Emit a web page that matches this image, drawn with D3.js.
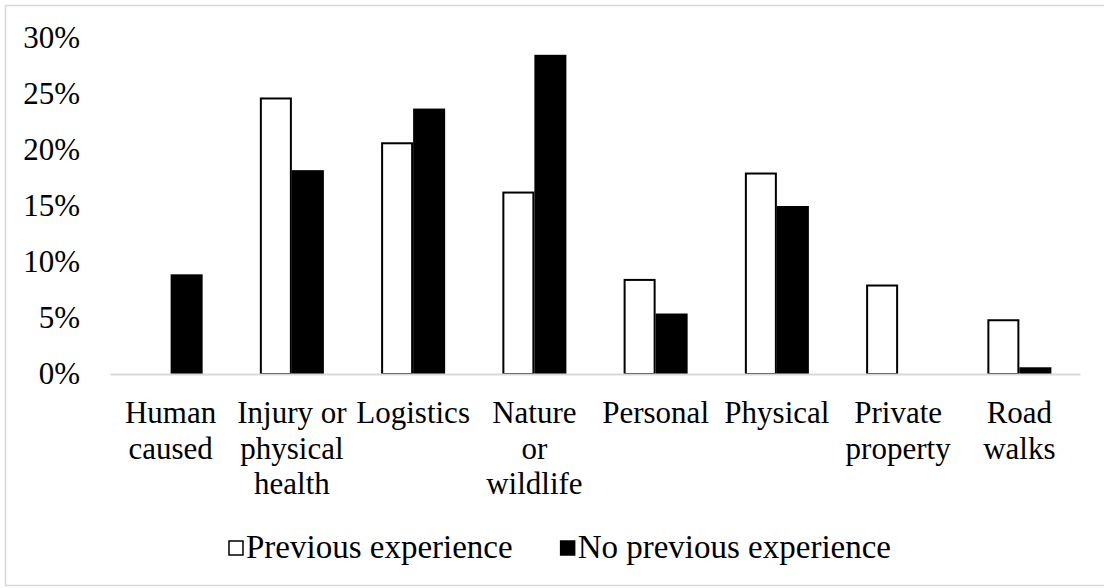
<!DOCTYPE html>
<html>
<head>
<meta charset="utf-8">
<script src="https://cdn.jsdelivr.net/npm/d3@7"></script>
<style>
  html, body { margin: 0; padding: 0; background: #fff; }
  svg { display: block; font-family: "Liberation Serif", "Times New Roman", serif; }
</style>
</head>
<body>
<script>
const categories = ['Human caused', 'Injury or physical health', 'Logistics', 'Nature or wildlife',
                    'Personal', 'Physical', 'Private property', 'Road walks'];
const labelLines = [['Human', 'caused'], ['Injury or', 'physical', 'health'], ['Logistics'],
                    ['Nature', 'or', 'wildlife'], ['Personal'], ['Physical'], ['Private', 'property'], ['Road', 'walks']];
const seriesNames = ['Previous experience', 'No previous experience'];
const previous = [0, 24.6, 20.6, 16.2, 8.4, 17.9, 7.9, 4.8];
const noPrevious = [8.9, 18.2, 23.7, 28.5, 5.4, 15.0, 0, 0.6];
const yTicks = [0, 5, 10, 15, 20, 25, 30];

const outerWidth = 1104;
const outerHeight = 588;
const margin = { left: 110, right: 24, top: 38, bottom: 214 };
const innerHeight = outerHeight - margin.top - margin.bottom;

const svg = d3.select('body').append('svg')
  .attr('width', outerWidth)
  .attr('height', outerHeight);

// chart border
svg.append('rect')
  .attr('x', 5.5).attr('y', 5.5)
  .attr('width', 1110).attr('height', 580)
  .attr('fill', 'none')
  .attr('stroke', '#d9d9d9')
  .attr('stroke-width', 1.5);

const xScale = d3.scaleBand()
  .domain(categories)
  .range([margin.left, outerWidth - margin.right]);

const xInner = d3.scaleBand()
  .domain(seriesNames)
  .range([0, xScale.bandwidth()])
  .paddingOuter(0.894);

const yScale = d3.scaleLinear()
  .domain([0, 30])
  .range([margin.top + innerHeight, margin.top]);

const rows = categories.map((c, i) => ({ cat: c, values: [previous[i], noPrevious[i]] }));

const groups = svg.selectAll('g.cat')
  .data(rows)
  .enter()
  .append('g')
  .attr('class', 'cat')
  .attr('transform', d => `translate(${xScale(d.cat)},0)`);

groups.selectAll('rect')
  .data(d => d.values.map((v, j) => ({ s: seriesNames[j], v: v, j: j })).filter(e => e.v > 0))
  .enter()
  .append('rect')
  .attr('x', d => xInner(d.s) + (d.j === 0 ? 1 : 0))
  .attr('y', d => yScale(d.v))
  .attr('width', d => xInner.bandwidth() - (d.j === 0 ? 2 : 0))
  .attr('height', d => yScale(0) - yScale(d.v))
  .attr('fill', d => d.j === 0 ? '#fff' : '#000')
  .attr('stroke', d => d.j === 0 ? '#000' : 'none')
  .attr('stroke-width', 2);

// y axis labels
const yAxis = d3.axisLeft(yScale)
  .tickValues(yTicks)
  .tickSize(0)
  .tickPadding(30)
  .tickFormat(d => d + '%');

svg.append('g')
  .attr('id', 'y-axis')
  .attr('transform', `translate(${margin.left},0)`)
  .call(yAxis)
  .attr('font-family', null)
  .attr('font-size', 31)
  .call(g => g.select('.domain').remove())
  .selectAll('text')
  .attr('fill', '#000');

// x axis line
const xAxis = d3.axisBottom(xScale).tickSize(0).tickFormat('');
const xg = svg.append('g')
  .attr('id', 'x-axis')
  .attr('transform', `translate(0,${yScale(0)})`)
  .call(xAxis);
xg.select('.domain').attr('stroke', '#d9d9d9').attr('stroke-width', 2);

// category labels
const lab = svg.append('g')
  .attr('font-size', 31)
  .attr('text-anchor', 'middle')
  .attr('fill', '#000');

lab.selectAll('text')
  .data(categories)
  .enter()
  .append('text')
  .attr('x', d => xScale(d) + xScale.bandwidth() / 2)
  .attr('y', 423)
  .selectAll('tspan')
  .data((d, i) => labelLines[i])
  .enter()
  .append('tspan')
  .attr('x', function() { return d3.select(this.parentNode).attr('x'); })
  .attr('y', (d, i) => 423 + i * 35.5)
  .text(d => d);

// legend
const legend = svg.append('g').attr('font-size', 33);
const legendY = 558;
const items = legend.selectAll('g')
  .data(seriesNames)
  .enter()
  .append('g');
items.append('rect')
  .attr('width', 14).attr('height', 14)
  .attr('y', legendY - 17)
  .attr('fill', (d, i) => i === 0 ? '#fff' : '#000')
  .attr('stroke', '#000')
  .attr('stroke-width', 1.5);
items.append('text')
  .attr('x', 17)
  .attr('y', legendY)
  .text(d => d);

const legendGap = 48;
let xpos = 0;
const offsets = [];
items.each(function() {
  offsets.push(xpos);
  xpos += 17 + this.querySelector('text').getComputedTextLength() + legendGap;
});
const total = xpos - legendGap;
const startX = 560 - total / 2;
items.attr('transform', (d, i) => `translate(${startX + offsets[i]},0)`);
</script>
</body>
</html>
